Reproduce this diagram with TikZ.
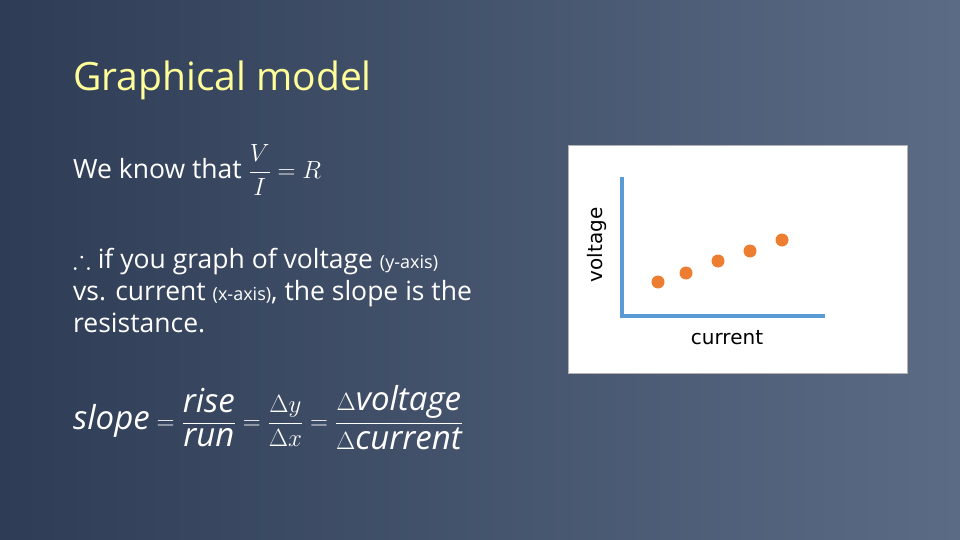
\documentclass[tikz,border=0pt]{standalone}
\usepackage{fontspec}
\usepackage{amsmath,amssymb}
\setmainfont{Open Sans}
\newfontfamily\djv{DejaVu Sans}
\definecolor{bgl}{HTML}{2E3C55}
\definecolor{bgr}{HTML}{5C6B85}
\definecolor{ttl}{HTML}{FFFF99}
\definecolor{ax}{HTML}{5B9BD5}
\definecolor{dot}{HTML}{ED7D31}
\tikzset{txt/.style={text=white,anchor=west,inner sep=0pt,font=\fontsize{26.5}{32}\selectfont},
 pt/.style={circle,fill=dot,minimum size=13pt,inner sep=0pt}}
\begin{document}
\begin{tikzpicture}[x=1pt,y=-1pt]
\shade[left color=bgl,right color=bgr] (0,0) rectangle (960,540);
\useasboundingbox (0,0) rectangle (960,540);
\node[anchor=west,text=ttl,inner sep=0pt,font=\fontsize{39}{44}\selectfont] (title) at (73,80) {Graphical model};
\node[txt] (know) at (73,170) {We know that $\dfrac{V}{I}=R$};
\node[txt,align=left,anchor=north west] (graph) at (73,248) {$\therefore$ if you graph of voltage {\fontsize{18}{20}\selectfont (y-axis)}\\vs. current {\fontsize{18}{20}\selectfont (x-axis)}, the slope is the\\resistance.};
\node[txt,font=\fontsize{33}{38}\selectfont] (slope) at (73,418) {$\mathit{slope}=\dfrac{\mathit{rise}}{\mathit{run}}=\dfrac{\Delta y}{\Delta x}=\dfrac{\Delta \mathit{voltage}}{\Delta \mathit{current}}$};
\node[draw=gray!60,fill=white,minimum width=339pt,minimum height=228pt,anchor=north west,inner sep=0pt] (box) at (568,145) {};
\coordinate (o) at (622,316);
\coordinate (yt) at (622,177);
\coordinate (xr) at (825,316);
\draw[ax,line width=4pt] (yt) -- (o) -- (xr);
\foreach \x/\y [count=\i] in {658/282,686/273,718/261,750/251,782/240} \node[pt] (p\i) at (\x,\y) {};
\node[rotate=90,font=\djv\fontsize{20}{22}\selectfont] (vl) at (597,245) {voltage};
\node[font=\djv\fontsize{20}{22}\selectfont] (cl) at (727,338) {current};
\end{tikzpicture}
\end{document}
